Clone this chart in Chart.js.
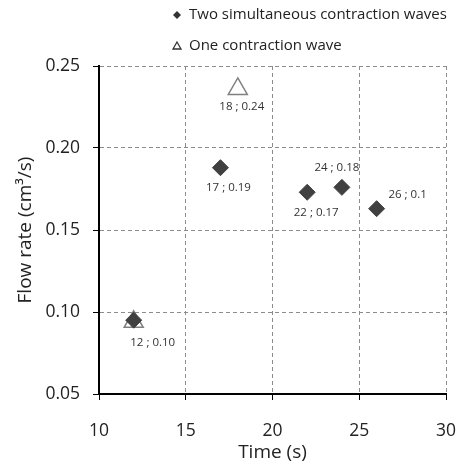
<!DOCTYPE html>
<html><head><meta charset="utf-8">
<script src="https://cdn.jsdelivr.net/npm/chart.js@4.4.1/dist/chart.umd.min.js"></script>
<style>html,body{margin:0;padding:0;background:#fff}#w{width:461px;height:466px}</style>
</head><body><div id="w"><canvas id="c"></canvas></div>
<script>
const seriesNames = ["Two simultaneous contraction waves", "One contraction wave"];
const twoWaveX = [12, 17, 22, 24, 26];
const twoWaveY = [0.095, 0.188, 0.173, 0.176, 0.163];
const oneWaveX = [12, 18];
const oneWaveY = [0.094, 0.236];
const twoWaveLabels = ["12 ; 0.10", "17 ; 0.19", "22 ; 0.17", "24 ; 0.18", "26 ; 0.1"];
const oneWaveLabels = ["", "18 ; 0.24"];
const xTicks = [10, 15, 20, 25, 30];
const yTicks = [0.05, 0.10, 0.15, 0.20, 0.25];

const FONT = "'Open Sans', 'DejaVu Sans', sans-serif";
const labelOffsets = {
  0: [[19, 23], [8, 20], [9, 20], [-5, -20], [31, -14]],
  1: [[0, 0], [4, 18]]
};

const labelPlugin = {
  id: 'pointLabels',
  afterDatasetsDraw(chart) {
    const ctx = chart.ctx;
    ctx.save();
    ctx.font = "11.5px " + FONT;
    ctx.fillStyle = '#333';
    ctx.textAlign = 'center';
    ctx.textBaseline = 'middle';
    chart.data.datasets.forEach((ds, di) => {
      const meta = chart.getDatasetMeta(di);
      meta.data.forEach((pt, i) => {
        const t = ds.pointLabels[i];
        if (!t) return;
        const o = labelOffsets[di][i];
        ctx.fillText(t, pt.x + o[0], pt.y + o[1]);
      });
    });
    ctx.restore();
  }
};

const legendPlugin = {
  id: 'customLegend',
  afterDraw(chart) {
    const ctx = chart.ctx;
    ctx.save();
    ctx.font = "15px " + FONT;
    ctx.textBaseline = 'middle';
    ctx.fillStyle = '#333';
    ctx.beginPath();
    ctx.moveTo(177, 11); ctx.lineTo(181, 15); ctx.lineTo(177, 19); ctx.lineTo(173, 15); ctx.closePath();
    ctx.fill();
    ctx.fillStyle = '#222';
    ctx.fillText(seriesNames[0], 189, 15);
    ctx.strokeStyle = '#333';
    ctx.lineWidth = 1.3;
    ctx.beginPath();
    ctx.moveTo(177, 42); ctx.lineTo(181, 49); ctx.lineTo(173, 49); ctx.closePath();
    ctx.stroke();
    ctx.fillText(seriesNames[1], 189, 46);
    ctx.restore();
  }
};

new Chart(document.getElementById('c'), {
  type: 'scatter',
  data: {
    datasets: [
      {
        label: seriesNames[0],
        data: twoWaveX.map((x, i) => ({x, y: twoWaveY[i]})),
        pointLabels: twoWaveLabels,
        pointStyle: 'rectRot',
        pointRadius: 8,
        pointHoverRadius: 8,
        backgroundColor: '#404040',
        borderColor: '#404040',
        borderWidth: 1,
        order: 0
      },
      {
        label: seriesNames[1],
        data: oneWaveX.map((x, i) => ({x, y: oneWaveY[i]})),
        pointLabels: oneWaveLabels,
        pointStyle: 'triangle',
        pointRadius: 11,
        pointHoverRadius: 11,
        backgroundColor: '#ffffff',
        borderColor: '#808080',
        borderWidth: 1.5,
        order: 1
      }
    ]
  },
  options: {
    responsive: true,
    maintainAspectRatio: false,
    animation: false,
    layout: { padding: { top: 66, right: 15, left: 10, bottom: 0 } },
    plugins: { legend: { display: false }, tooltip: { enabled: false } },
    scales: {
      x: {
        type: 'linear',
        min: 10, max: 30,
        afterBuildTicks(s) { s.ticks = xTicks.map(v => ({value: v})); },
        afterFit(s) { s.height = 72; s.paddingLeft = 0; s.paddingRight = 0; },
        ticks: { font: { size: 17.5, family: FONT }, color: '#222', padding: 21, callback: v => String(v) },
        grid: { color: '#8c8c8c', tickBorderDash: [], tickColor: '#000', tickLength: 6, drawTicks: true },
        border: { display: true, color: '#000', width: 2, dash: [4, 3] },
        title: { display: true, text: 'Time (s)', font: { size: 19, family: FONT }, color: '#222', padding: { top: 0, bottom: 2 } }
      },
      y: {
        type: 'linear',
        min: 0.05, max: 0.25,
        afterBuildTicks(s) { s.ticks = yTicks.map(v => ({value: v})); },
        afterFit(s) { s.width = 89; s.paddingTop = 0; s.paddingBottom = 0; },
        ticks: { font: { size: 17.5, family: FONT }, color: '#222', padding: 13, callback: v => v.toFixed(2) },
        grid: { color: '#8c8c8c', tickBorderDash: [], tickColor: '#000', tickLength: 6 },
        border: { display: true, color: '#000', width: 2, dash: [4, 3] },
        title: { display: true, text: 'Flow rate (cm³/s)', font: { size: 19, family: FONT }, color: '#222', padding: { top: 4, bottom: 0 } }
      }
    }
  },
  plugins: [labelPlugin, legendPlugin]
});
</script></body></html>
